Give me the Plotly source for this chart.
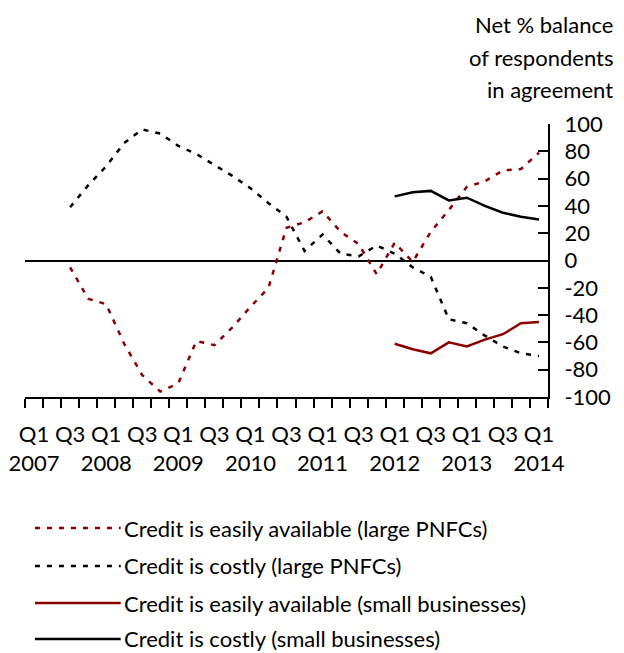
import plotly.graph_objects as go

# ---------------------------------------------------------------------------
# Data (net % balance of respondents in agreement)
# ---------------------------------------------------------------------------

quarters = [
    'Q1 2007', 'Q2 2007', 'Q3 2007', 'Q4 2007',
    'Q1 2008', 'Q2 2008', 'Q3 2008', 'Q4 2008',
    'Q1 2009', 'Q2 2009', 'Q3 2009', 'Q4 2009',
    'Q1 2010', 'Q2 2010', 'Q3 2010', 'Q4 2010',
    'Q1 2011', 'Q2 2011', 'Q3 2011', 'Q4 2011',
    'Q1 2012', 'Q2 2012', 'Q3 2012', 'Q4 2012',
    'Q1 2013', 'Q2 2013', 'Q3 2013', 'Q4 2013',
    'Q1 2014',
]
tick_text = [
    'Q1<br>2007', '', 'Q3', '', 'Q1<br>2008', '', 'Q3', '',
    'Q1<br>2009', '', 'Q3', '', 'Q1<br>2010', '', 'Q3', '',
    'Q1<br>2011', '', 'Q3', '', 'Q1<br>2012', '', 'Q3', '',
    'Q1<br>2013', '', 'Q3', '', 'Q1<br>2014',
]
y_ticks = [100, 80, 60, 40, 20, 0, -20, -40, -60, -80, -100]
y_tick_text = ['100', '80', '60', '40', '20', '0', '-20', '-40', '-60', '-80', '-100']

# large PNFCs: Q3 2007 onwards
large_quarters = quarters[2:]
easily_large = [-5, -28, -32, -61, -84, -96, -90, -59, -62, -49, -34, -20, 24, 28,
                36, 21, 12, -10, 13, -1, 21, 37, 54, 58, 66, 67, 79]
costly_large = [39, 55, 69, 86, 96, 93, 84, 78, 70, 62, 53, 42, 32, 7,
                19, 5, 3, 11, 5, -5, -12, -43, -46, -55, -63, -68, -70]

# small businesses: Q1 2012 onwards
small_quarters = quarters[20:]
easily_small = [-61, -65, -68, -60, -63, -58, -54, -46, -45]
costly_small = [47, 50, 51, 44, 46, 40, 35, 32, 30]

series_names = [
    'Credit is easily available (large PNFCs)',
    'Credit is costly (large PNFCs)',
    'Credit is easily available (small businesses)',
    'Credit is costly (small businesses)',
]

RED = '#8b0000'
BLACK = '#000000'
DASH = '5px,7px'
FONT = 'Lato'
FS = 22

fig = go.Figure()

fig.add_trace(go.Scatter(x=large_quarters, y=easily_large, name=series_names[0],
                         mode='lines', line=dict(color=RED, width=2.5, dash=DASH)))
fig.add_trace(go.Scatter(x=large_quarters, y=costly_large, name=series_names[1],
                         mode='lines', line=dict(color=BLACK, width=2.5, dash=DASH)))
fig.add_trace(go.Scatter(x=small_quarters, y=easily_small, name=series_names[2],
                         mode='lines', line=dict(color=RED, width=2.5)))
fig.add_trace(go.Scatter(x=small_quarters, y=costly_small, name=series_names[3],
                         mode='lines', line=dict(color=BLACK, width=2.5)))

# Hand-drawn legend below the chart (long line samples, as in the original)
legend_rows = [-0.480, -0.619, -0.755, -0.886]
legend_styles = [(RED, DASH), (BLACK, DASH), (RED, 'solid'), (BLACK, 'solid')]
for name, yrow, (col, dash) in zip(series_names, legend_rows, legend_styles):
    fig.add_shape(type='line', xref='paper', yref='paper',
                  x0=0.019, x1=0.183, y0=yrow, y1=yrow,
                  line=dict(color=col, width=2.5, dash=dash))
    fig.add_annotation(text=name, xref='paper', yref='paper', x=0.186, y=yrow,
                       xanchor='left', yanchor='middle', showarrow=False,
                       font=dict(size=FS, color='black', family=FONT))

# Axis title, top right
for txt, ypos in zip(['Net % balance', 'of respondents', 'in agreement'],
                     [1.363, 1.242, 1.125]):
    fig.add_annotation(text=txt, xref='paper', yref='paper', x=1.128, y=ypos,
                       xanchor='right', yanchor='middle', showarrow=False,
                       font=dict(size=FS, color='black', family=FONT))

# the page body adds an 8px margin, so the figure is sized/offset to fit the window
fig.update_layout(
    width=616, height=645,
    margin=dict(l=17, r=76, t=116, b=256),
    paper_bgcolor='white', plot_bgcolor='white',
    showlegend=False,
    font=dict(family=FONT, size=FS, color='black'),
    xaxis=dict(
        type='category', categoryorder='array', categoryarray=quarters,
        range=[-0.5, len(quarters) - 0.5], automargin=False,
        tickmode='array', tickvals=quarters, ticktext=tick_text, tickangle=0,
        tickson='boundaries', ticks='outside', ticklen=9, tickwidth=2,
        tickcolor='black', ticklabelstandoff=17,
        showline=True, linewidth=2, linecolor='black',
        showgrid=False, zeroline=False,
        tickfont=dict(size=FS),
    ),
    yaxis=dict(
        side='right', range=[-100, 100], automargin=False,
        tickmode='array', tickvals=y_ticks, ticktext=y_tick_text,
        ticks='inside', ticklen=10, tickwidth=2, tickcolor='black',
        ticklabelstandoff=10,
        showline=True, linewidth=2, linecolor='black',
        showgrid=False, zeroline=True, zerolinecolor='black', zerolinewidth=2,
        tickfont=dict(size=FS),
    ),
)

fig.write_html('out.html')
